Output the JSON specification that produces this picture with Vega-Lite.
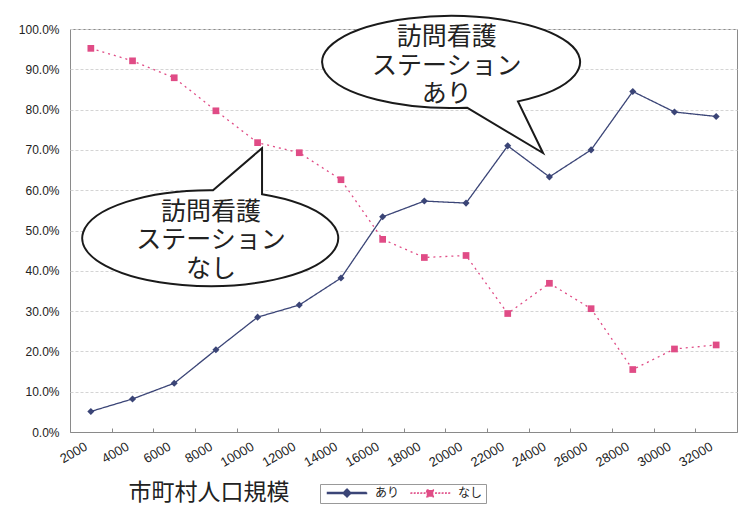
{
  "$schema": "https://vega.github.io/schema/vega-lite/v6.json",
  "width": 667,
  "height": 403,
  "autosize": "none",
  "padding": {"left": 70, "top": 29, "right": 4, "bottom": 78},
  "background": "white",
  "config": {
    "font": "Liberation Sans",
    "view": {"stroke": "#8a8a8a", "strokeWidth": 1},
    "axis": {"labelColor": "#222", "domainColor": "#8a8a8a", "tickColor": "#8a8a8a"}
  },
  "datasets": {
    "series": [
      {"size": "2000", "series": "あり", "value": 0.051},
      {"size": "4000", "series": "あり", "value": 0.082},
      {"size": "6000", "series": "あり", "value": 0.121},
      {"size": "8000", "series": "あり", "value": 0.204},
      {"size": "10000", "series": "あり", "value": 0.285},
      {"size": "12000", "series": "あり", "value": 0.315},
      {"size": "14000", "series": "あり", "value": 0.382},
      {"size": "16000", "series": "あり", "value": 0.534},
      {"size": "18000", "series": "あり", "value": 0.573},
      {"size": "20000", "series": "あり", "value": 0.568},
      {"size": "22000", "series": "あり", "value": 0.710},
      {"size": "24000", "series": "あり", "value": 0.633},
      {"size": "26000", "series": "あり", "value": 0.700},
      {"size": "28000", "series": "あり", "value": 0.845},
      {"size": "30000", "series": "あり", "value": 0.794},
      {"size": "32000", "series": "あり", "value": 0.783},
      {"size": "2000", "series": "なし", "value": 0.952},
      {"size": "4000", "series": "なし", "value": 0.921},
      {"size": "6000", "series": "なし", "value": 0.879},
      {"size": "8000", "series": "なし", "value": 0.797},
      {"size": "10000", "series": "なし", "value": 0.718},
      {"size": "12000", "series": "なし", "value": 0.693},
      {"size": "14000", "series": "なし", "value": 0.626},
      {"size": "16000", "series": "なし", "value": 0.478},
      {"size": "18000", "series": "なし", "value": 0.433},
      {"size": "20000", "series": "なし", "value": 0.438},
      {"size": "22000", "series": "なし", "value": 0.294},
      {"size": "24000", "series": "なし", "value": 0.369},
      {"size": "26000", "series": "なし", "value": 0.306},
      {"size": "28000", "series": "なし", "value": 0.155},
      {"size": "30000", "series": "なし", "value": 0.206},
      {"size": "32000", "series": "なし", "value": 0.216}
    ]
  },
  "encoding": {
    "y": {
      "field": "value", "type": "quantitative",
      "scale": {"domain": [0, 1], "nice": false},
      "axis": {
        "title": null, "format": ".1%", "values": [0,0.1,0.2,0.3,0.4,0.5,0.6,0.7,0.8,0.9,1.0],
        "labelFontSize": 12, "labelPadding": 11, "ticks": false, "domain": false, "labelOverlap": false,
        "gridColor": "#d4d4d4", "gridWidth": 1, "gridDash": [3, 2]
      }
    }
  },
  "layer": [
    {
      "data": {"name": "series"},
      "encoding": {
        "x": {
          "field": "size", "type": "ordinal",
          "sort": ["2000","4000","6000","8000","10000","12000","14000","16000","18000","20000","22000","24000","26000","28000","30000","32000"],
          "scale": {"type": "band", "paddingInner": 0, "paddingOuter": 0},
          "axis": {
            "title": "市町村人口規模",
            "titleFont": "Noto Sans CJK JP", "titleFontSize": 23, "titleFontWeight": "normal", "titleColor": "#222",
            "titleAnchor": "start", "titleAlign": "left", "titleX": 58, "titleY": 60, "titleBaseline": "middle",
            "labelAngle": -30, "labelAlign": "right", "labelBaseline": "top", "labelPadding": 12, "labelOffset": -8,
            "labelFontSize": 13, "tickBand": "extent", "tickSize": -4, "grid": false, "labelOverlap": false
          }
        },
        "color": {
          "field": "series", "type": "nominal",
          "scale": {"domain": ["あり", "なし"], "range": ["#3B4577", "#E04C86"]},
          "legend": {
            "orient": "none", "legendX": 250, "legendY": 455, "direction": "horizontal",
            "title": null, "strokeColor": "#999", "padding": 3,
            "labelFont": "Noto Sans CJK JP", "labelFontSize": 12, "labelColor": "#222",
            "symbolSize": 36, "symbolOffset": 18, "labelOffset": 22, "columnPadding": 6,
            "encode": {
              "symbols": {
                "update": {
                  "shape": {"signal": "datum.value === 'あり' ? 'M-6.5,-0.15L6.5,-0.15L6.5,0.15L-6.5,0.15ZM0,-1.3L1.3,0L0,1.3L-1.3,0Z' : 'M-6.5,-0.15L-6.1,-0.15L-6.1,0.15L-6.5,0.15ZM-5.4,-0.15L-5,-0.15L-5,0.15L-5.4,0.15ZM-4.3,-0.15L-3.9,-0.15L-3.9,0.15L-4.3,0.15ZM-3.2,-0.15L-2.8,-0.15L-2.8,0.15L-3.2,0.15ZM-2.1,-0.15L-1.7,-0.15L-1.7,0.15L-2.1,0.15ZM1.7,-0.15L2.1,-0.15L2.1,0.15L1.7,0.15ZM2.8,-0.15L3.2,-0.15L3.2,0.15L2.8,0.15ZM3.9,-0.15L4.3,-0.15L4.3,0.15L3.9,0.15ZM5,-0.15L5.4,-0.15L5.4,0.15L5,0.15ZM6.1,-0.15L6.5,-0.15L6.5,0.15L6.1,0.15ZM-1.1,-1.1L1.1,-1.1L1.1,1.1L-1.1,1.1Z'"},
                  "fill": {"signal": "datum.value === 'あり' ? '#3B4577' : '#E04C86'"},
                  "stroke": {"value": "transparent"},
                  "opacity": {"value": 1}
                }
              }
            }
          }
        }
      },
      "layer": [
        {
          "mark": {"type": "line", "strokeWidth": 1.3},
          "encoding": {
            "strokeDash": {
              "field": "series", "type": "nominal",
              "scale": {"domain": ["あり", "なし"], "range": [[1, 0], [2, 4]]},
              "legend": null
            }
          }
        },
        {
          "transform": [{"filter": "datum.series === 'あり'"}],
          "mark": {"type": "point", "filled": true, "opacity": 1, "size": 50, "shape": "diamond"}
        },
        {
          "transform": [{"filter": "datum.series === 'なし'"}],
          "mark": {"type": "point", "filled": true, "opacity": 1, "size": 45, "shape": "square"}
        }
      ]
    },
    {
      "data": {"values": [{"nx": 3.36, "value": 0.481}]},
      "mark": {
        "type": "point", "filled": false, "fill": "white", "fillOpacity": 1, "stroke": "#1a1a1a", "strokeWidth": 2, "opacity": 1,
        "size": 65536,
        "shape": "M0.406,-0.343L0.406,-0.703L0.023,-0.375A1,0.375 0 1 0 0.406,-0.343Z"
      },
      "encoding": {
        "x": {"field": "nx", "type": "quantitative", "scale": {"domain": [0, 16], "nice": false, "zero": false}, "axis": null}
      }
    },
    {
      "data": {"values": [{"nx": 9.14, "value": 0.918}]},
      "mark": {
        "type": "point", "filled": false, "fill": "white", "fillOpacity": 1, "stroke": "#1a1a1a", "strokeWidth": 2, "opacity": 1,
        "size": 66564,
        "shape": "M0.124,0.354L0.713,0.705L0.519,0.305A1,0.357 0 1 0 0.124,0.354Z"
      },
      "encoding": {
        "x": {"field": "nx", "type": "quantitative", "scale": {"domain": [0, 16], "nice": false, "zero": false}, "axis": null}
      }
    },
    {
      "data": {"values": [
        {"nx": 3.38, "value": 0.546, "label": "訪問看護\nステーション\nなし"},
        {"nx": 9.04, "value": 0.980, "label": "訪問看護\nステーション\nあり"}
      ]},
      "mark": {"type": "text", "font": "Noto Sans CJK JP", "fontSize": 25, "lineHeight": 28.5, "lineBreak": "\n", "align": "center", "baseline": "middle", "color": "#222"},
      "encoding": {
        "x": {"field": "nx", "type": "quantitative", "scale": {"domain": [0, 16], "nice": false, "zero": false}, "axis": null},
        "text": {"field": "label"}
      }
    }
  ],
  "resolve": {"scale": {"x": "independent"}, "axis": {"x": "independent"}}
}
